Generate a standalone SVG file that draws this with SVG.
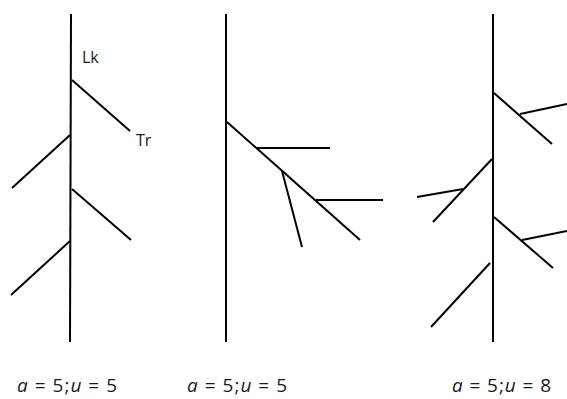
<svg xmlns="http://www.w3.org/2000/svg" width="567" height="399" viewBox="0 0 567 399">
<style>
.ln{stroke:#000;stroke-width:2;fill:none;stroke-linecap:butt}
.lb{font-family:"Open Sans",sans-serif;fill:#1a1a1a}
.cap{font-size:19px}
.sm{font-size:16px}
</style>
<rect width="567" height="399" fill="#fff"/>
<g id="connectors">
<g id="panel1">
<line class="ln" x1="71" y1="14" x2="70" y2="342"/>
<line class="ln" x1="72" y1="80" x2="130" y2="131"/>
<line class="ln" x1="70" y1="135" x2="12" y2="188"/>
<line class="ln" x1="72" y1="189" x2="131" y2="240"/>
<line class="ln" x1="70" y1="241" x2="11" y2="295"/>
</g>
<g id="panel2">
<line class="ln" x1="226" y1="14" x2="226" y2="342"/>
<line class="ln" x1="227" y1="122" x2="360" y2="240"/>
<line class="ln" x1="257" y1="148" x2="330" y2="148"/>
<line class="ln" x1="282" y1="171" x2="302" y2="247"/>
<line class="ln" x1="316" y1="200" x2="383" y2="200"/>
</g>
<g id="panel3">
<line class="ln" x1="493" y1="14" x2="493" y2="342"/>
<line class="ln" x1="494" y1="93" x2="552" y2="144"/>
<line class="ln" x1="520" y1="114" x2="567" y2="104"/>
<line class="ln" x1="492" y1="159" x2="433" y2="222"/>
<line class="ln" x1="463" y1="189" x2="417" y2="197"/>
<line class="ln" x1="494" y1="217" x2="553" y2="268"/>
<line class="ln" x1="522" y1="240" x2="567" y2="231"/>
<line class="ln" x1="490" y1="263" x2="431" y2="327"/>
</g>
</g>
<g id="lk"><text class="lb sm" x="82" y="63">Lk</text></g>
<g id="tr"><text class="lb sm" x="136" y="146">Tr</text></g>
<g id="label1"><text class="lb cap" x="17" y="392" textLength="100" lengthAdjust="spacing"><tspan font-style="italic">a</tspan> = 5;<tspan font-style="italic">u</tspan> = 5</text></g>
<g id="label2"><text class="lb cap" x="187" y="392" textLength="100" lengthAdjust="spacing"><tspan font-style="italic">a</tspan> = 5;<tspan font-style="italic">u</tspan> = 5</text></g>
<g id="label3"><text class="lb cap" x="452" y="392" textLength="99" lengthAdjust="spacing"><tspan font-style="italic">a</tspan> = 5;<tspan font-style="italic">u</tspan> = 8</text></g>
</svg>
